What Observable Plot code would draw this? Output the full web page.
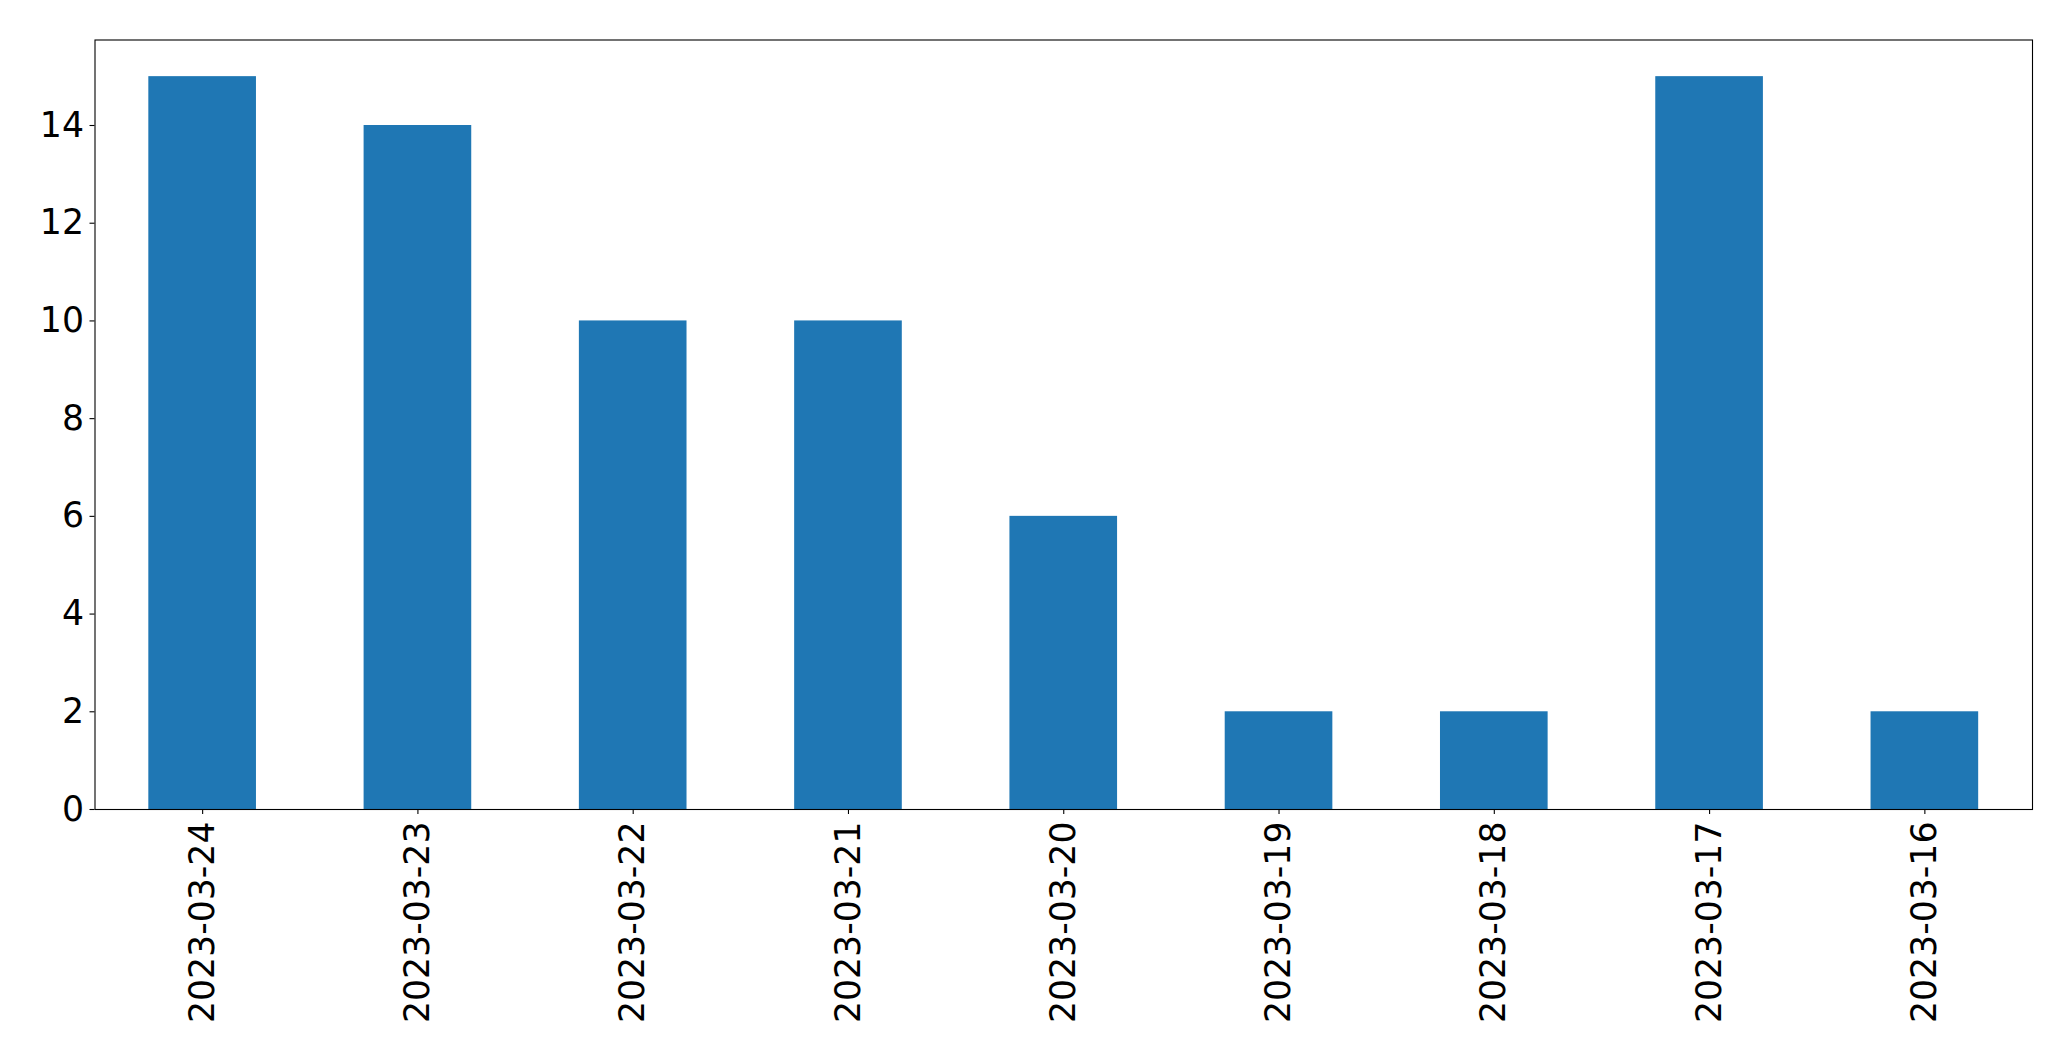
<!DOCTYPE html>
<html>
<head>
<meta charset="utf-8">
<script src="https://cdn.jsdelivr.net/npm/d3@7"></script>
<script src="https://cdn.jsdelivr.net/npm/@observablehq/plot@0.6"></script>
<style>
  html, body { margin: 0; padding: 0; background: #fff; overflow: hidden; }
  #chart svg { display: block; }
</style>
</head>
<body>
<div id="chart"></div>
<script>
const dates = ["2023-03-24","2023-03-23","2023-03-22","2023-03-21","2023-03-20","2023-03-19","2023-03-18","2023-03-17","2023-03-16"];
const counts = [15, 14, 10, 10, 6, 2, 2, 15, 2];
const yTicks = [0, 2, 4, 6, 8, 10, 12, 14];

const data = dates.map((d, i) => ({date: d, count: counts[i]}));
const fontSize = "34.7px";

const chart = Plot.plot({
  width: 2071,
  height: 1061,
  marginLeft: 94.5,
  marginRight: 39,
  marginTop: 39.5,
  marginBottom: 252,
  style: {fontFamily: "DejaVu Sans", background: "#fff", color: "#000"},
  x: {domain: dates, paddingInner: 0.5, paddingOuter: 0.25, round: false, label: null},
  y: {domain: [0, 15.75], label: null},
  marks: [
    Plot.barY(data, {x: "date", y: "count", fill: "#1f77b4", inset: 0}),
    Plot.frame({stroke: "#000", strokeWidth: 1.1, strokeOpacity: 1}),
    Plot.axisX({tickRotate: -90, tickSize: 5, tickPadding: 7, fontSize, stroke: "#000", strokeWidth: 1.1, fill: "#000"}),
    Plot.axisY({ticks: yTicks, tickSize: 5, tickPadding: 6, fontSize, stroke: "#000", strokeWidth: 1.1, fill: "#000", tickFormat: d => String(d)})
  ]
});
document.getElementById("chart").appendChild(chart);
</script>
</body>
</html>
